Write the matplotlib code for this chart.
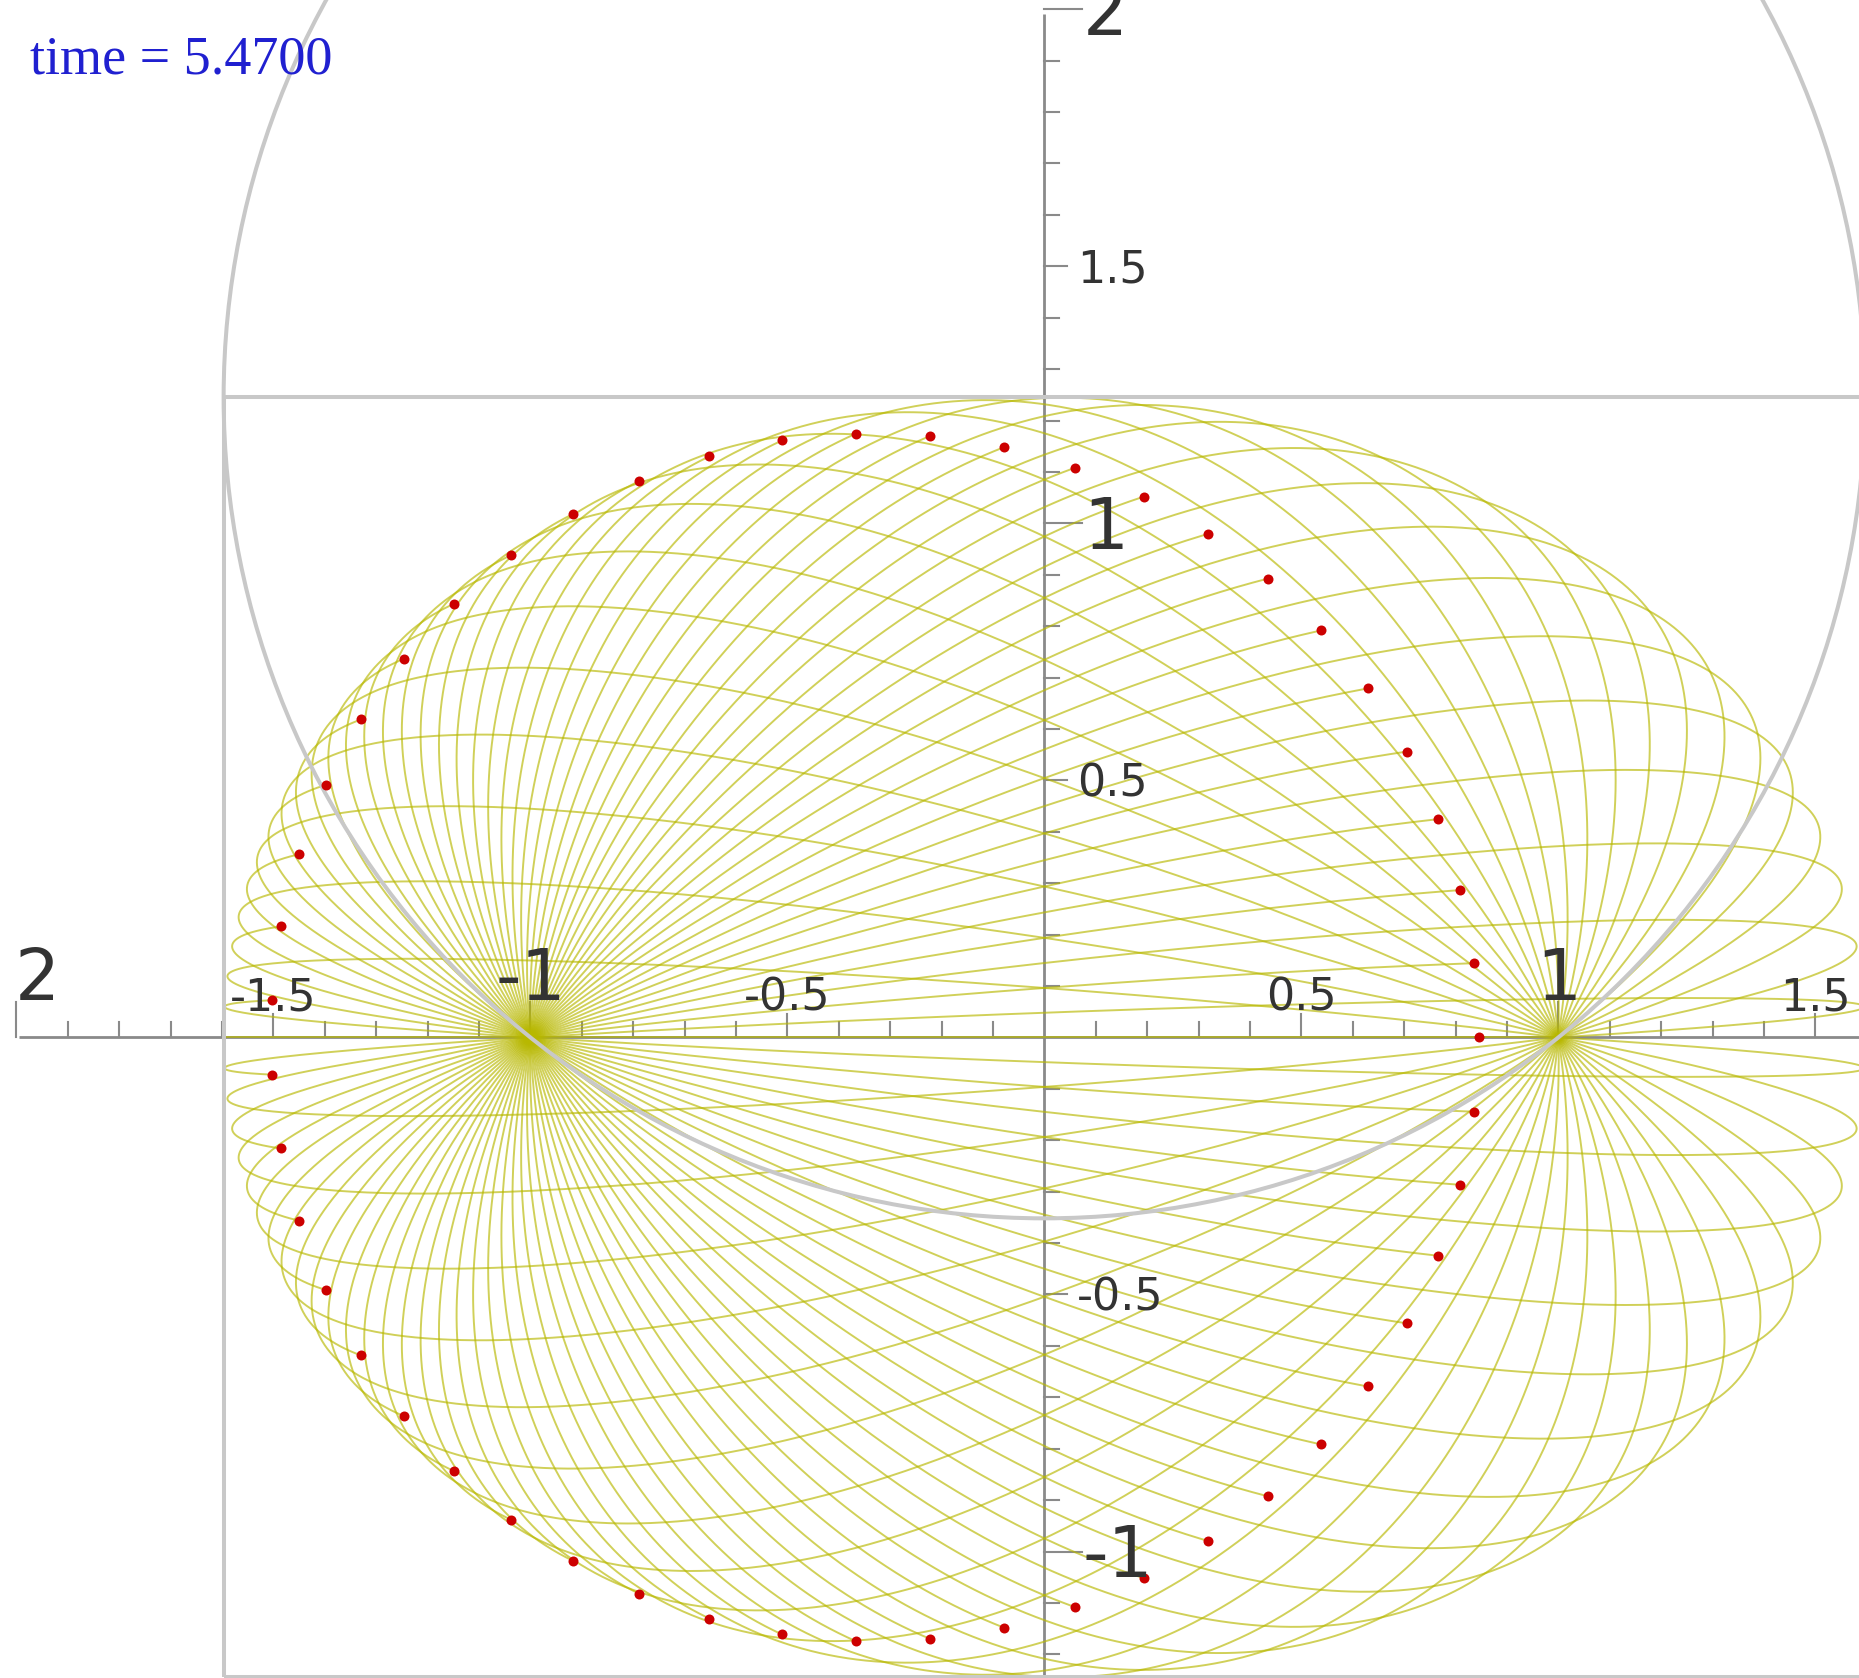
import numpy as np
import matplotlib.pyplot as plt
from matplotlib.patches import Circle, Rectangle

# particles launched from (1, 0) in a harmonic well, one trail per launch angle (deg)
launch_deg = [3.53, 10.59, 17.65, 24.71, 31.76, 38.82, 45.88, 52.94, 60.00, 67.06,
              74.12, 81.18, 88.24, 95.29, 102.35, 109.41, 116.47, 123.53, 130.59, 137.65,
              144.71, 151.76, 158.82, 165.88, 172.94, 180.00, 187.06, 194.12, 201.18, 208.24,
              215.29, 222.35, 229.41, 236.47, 243.53, 250.59, 257.65, 264.71, 271.76, 278.82,
              285.88, 292.94, 300.00, 307.06, 314.12, 321.18, 328.24, 335.29, 342.35, 349.41,
              356.47]
speed = 1.245      # launch speed
omega = 0.8        # angular frequency of the well
t_now = 5.47       # current time

x_label_pos = [-2, -1.5, -1, -0.5, 0.5, 1, 1.5]
x_label_txt = ["2", "-1.5", "-1", "-0.5", "0.5", "1", "1.5"]
y_label_pos = [-1, -0.5, 0.5, 1, 1.5, 2]
y_label_txt = ["-1", "-0.5", "0.5", "1", "1.5", "2"]

px = 1 / 514.0   # one pixel in data units

fig = plt.figure(figsize=(18.59, 16.78), dpi=100)
ax = fig.add_axes([0, 0, 1, 1])
ax.set_xlim(-2.032, 1.585)
ax.set_ylim(-1.246, 2.018)
ax.axis('off')

axis_col = '#8a8a8a'
label_col = '#333333'

# axes lines
ax.plot([-1.995, 1.7], [0, 0], color=axis_col, lw=2.0, zorder=1, solid_capstyle='butt')
ax.plot([0, 0], [-1.4, 1.99], color=axis_col, lw=2.0, zorder=1, solid_capstyle='butt')

# tick marks every 0.1, longer on halves and integers
for k in range(-20, 16):
    if k == 0:
        continue
    L = 35 if k % 10 == 0 else (23 if k % 5 == 0 else 15)
    ax.plot([k / 10, k / 10], [0, L * px], color=axis_col, lw=1.5, zorder=1)
for k in range(-13, 21):
    if k == 0:
        continue
    L = 38 if k % 10 == 0 else (23 if k % 5 == 0 else 15)
    ax.plot([0, L * px], [k / 10, k / 10], color=axis_col, lw=1.5, zorder=1)

# trails from launch up to now
phase = omega * t_now
s = np.linspace(0, phase, 700)
for b in np.radians(launch_deg):
    tx = np.cos(s) + speed * np.cos(b) * np.sin(s)
    ty = speed * np.sin(b) * np.sin(s)
    ax.plot(tx, ty, color='#b8b800', lw=1.4, alpha=0.65, zorder=2)

# bounding box and circle of the orbit family
R = np.hypot(1, speed)
ax.add_patch(Rectangle((-R, -speed), 2 * R, 2 * speed, fill=False,
                       edgecolor='#c8c8c8', lw=2.9, zorder=3))
ax.add_patch(Circle((0, speed), R, fill=False, edgecolor='#c8c8c8', lw=2.9, zorder=3))

# particle positions at the current time
b = np.radians(launch_deg)
dot_x = np.cos(phase) + speed * np.cos(b) * np.sin(phase)
dot_y = speed * np.sin(b) * np.sin(phase)
ax.plot(dot_x, dot_y, 'o', color='#cc0000', ms=7.2, mec='none', zorder=4)

# tick labels
for v, t in zip(x_label_pos, x_label_txt):
    big = float(v).is_integer()
    xv = v + (0.04 if v == -2 else 0)
    ax.text(xv, 0.072 if big else 0.053, t, fontsize=51 if big else 32,
            color=label_col, ha='center', va='baseline', zorder=5)
for v, t in zip(y_label_pos, y_label_txt):
    big = float(v).is_integer()
    ax.text(0.075 if big else 0.064, v - (0.05 if big else 0.0315), t,
            fontsize=51 if big else 32, color=label_col, ha='left', va='baseline', zorder=5)

fig.text(30 / 1859, 1 - 74 / 1678, f"time = {t_now:.4f}", fontsize=39, color='#2020d0',
         family='Liberation Serif', ha='left', va='baseline')

fig.savefig('out.png', dpi=100)
